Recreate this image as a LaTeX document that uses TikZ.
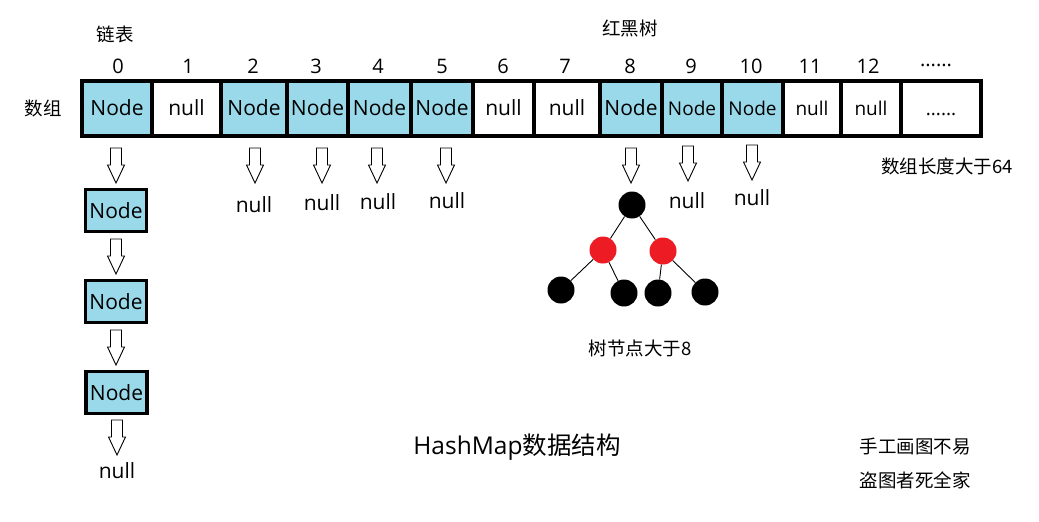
\documentclass[tikz,border=0pt]{standalone}
\usepackage{fontspec}
\setmainfont{Open Sans}
\newfontfamily\cjk{Noto Sans CJK SC}
\definecolor{cellblue}{HTML}{99D9EA}
\definecolor{rbred}{HTML}{ED1C24}
\begin{document}
\begin{tikzpicture}[x=1pt,y=-1pt,
  cell/.style={draw=black,line width=3.6pt,minimum height=55pt,inner sep=0pt,outer sep=0pt,
    text height=17pt,text depth=3pt,font=\fontsize{21}{24}\selectfont},
  bluecell/.style={cell,fill=cellblue},
  smallnode/.style={font=\fontsize{19}{22}\selectfont},
  listnode/.style={draw=black,line width=3.6pt,fill=cellblue,minimum width=61pt,minimum height=42pt,
    inner sep=0pt,font=\fontsize{21}{24}\selectfont},
  idx/.style={anchor=base,font=\fontsize{20}{24}\selectfont},
  nulltxt/.style={anchor=base,font=\fontsize{21}{24}\selectfont},
  cjklabel/.style={font=\cjk\fontsize{18.5}{22}\selectfont},
  blk/.style={circle,fill=black,minimum size=27pt,inner sep=0pt},
  redn/.style={circle,fill=rbred,minimum size=27pt,inner sep=0pt},
  hollow/.pic={\draw[line width=0.9pt,fill=white] (-5.5,0) -- (5.5,0) -- (5.5,17) -- (8.5,17)
     -- (0,35) -- (-8.5,17) -- (-5.5,17) -- cycle;}
]
\useasboundingbox (0,0) rectangle (1039,522);
\fill[white] (0,0) rectangle (1039,522);

% array cells
\node[bluecell,minimum width=70pt] (c0) at (117,108.5) {Node};
\node[cell,minimum width=69pt] (c1) at (186.5,108.5) {null};
\node[bluecell,minimum width=66pt] (c2) at (254,108.5) {Node};
\node[bluecell,minimum width=61pt] (c3) at (317.5,108.5) {Node};
\node[bluecell,minimum width=63pt] (c4) at (379.5,108.5) {Node};
\node[bluecell,minimum width=62pt] (c5) at (442,108.5) {Node};
\node[cell,minimum width=61pt] (c6) at (503.5,108.5) {null};
\node[cell,minimum width=66pt] (c7) at (567,108.5) {null};
\node[bluecell,minimum width=62pt] (c8) at (631,108.5) {Node};
\node[bluecell,minimum width=60pt,smallnode] (c9) at (692,108.5) {Node};
\node[bluecell,minimum width=61pt,smallnode] (c10) at (752.5,108.5) {Node};
\node[cell,minimum width=58pt,smallnode] (c11) at (812,108.5) {null};
\node[cell,minimum width=60pt,smallnode] (c12) at (871,108.5) {null};
\node[cell,minimum width=80pt,smallnode] (c13) at (941,108.5) {......};

% index labels
\node[idx] (i0) at (118,73) {0};
\node[idx] (i1) at (188,73) {1};
\node[idx] (i2) at (253,73) {2};
\node[idx] (i3) at (316,73) {3};
\node[idx] (i4) at (378,73) {4};
\node[idx] (i5) at (442,73) {5};
\node[idx] (i6) at (503,73) {6};
\node[idx] (i7) at (565,73) {7};
\node[idx] (i8) at (630,73) {8};
\node[idx] (i9) at (691,73) {9};
\node[idx] (i10) at (751,73) {10};
\node[idx] (i11) at (810,73) {11};
\node[idx] (i12) at (868,73) {12};
\node[idx] (i13) at (936,66) {......};

% labels
\node[cjklabel] (lb) at (115,34) {链表};
\node[cjklabel] (rb) at (630,29) {红黑树};
\node[cjklabel] (sz) at (43,108) {数组};
\node[cjklabel] (szl) at (947,166) {数组长度大于64};
\node[cjklabel] (tn) at (640,348) {树节点大于8};
\node[font=\fontsize{24.5}{28}\selectfont] (title) at (517,447) {HashMap{\cjk 数据结构}};
\node[cjklabel] (n1) at (915,447) {手工画图不易};
\node[cjklabel] (n2) at (915,480) {盗图者死全家};

% linked list
\node[listnode] (l1) at (116,210.5) {Node};
\node[listnode] (l2) at (116,301.5) {Node};
\node[listnode] (l3) at (116.5,392.5) {Node};
\node[nulltxt] (ln) at (117,478) {null};

\pic at (116,148) {hollow};
\pic at (116,239) {hollow};
\pic at (116,330) {hollow};
\pic at (117,420) {hollow};

% other arrows and nulls
\pic at (255,148) {hollow};
\node[nulltxt] (n2c) at (254,212) {null};
\pic at (322,148) {hollow};
\node[nulltxt] (n3c) at (322,210) {null};
\pic at (377,148) {hollow};
\node[nulltxt] (n4c) at (378,209) {null};
\pic at (446,148) {hollow};
\node[nulltxt] (n5c) at (447,208) {null};
\pic at (631,148) {hollow};
\pic at (688,146) {hollow};
\node[nulltxt] (n9c) at (687,208) {null};
\pic at (752,145) {hollow};
\node[nulltxt] (n10c) at (752,205) {null};

% red-black tree
\node[blk] (root) at (632,205) {};
\node[redn] (ra) at (603,250) {};
\node[redn] (rb2) at (663,251) {};
\node[blk] (la) at (561,290) {};
\node[blk] (lb2) at (624,293) {};
\node[blk] (lc) at (658,293) {};
\node[blk] (ld) at (705,292) {};
\draw[line width=0.9pt] (root) -- (ra);
\draw[line width=0.9pt] (root) -- (rb2);
\draw[line width=0.9pt] (ra) -- (la);
\draw[line width=0.9pt] (ra) -- (lb2);
\draw[line width=0.9pt] (rb2) -- (lc);
\draw[line width=0.9pt] (rb2) -- (ld);
\end{tikzpicture}
\end{document}
